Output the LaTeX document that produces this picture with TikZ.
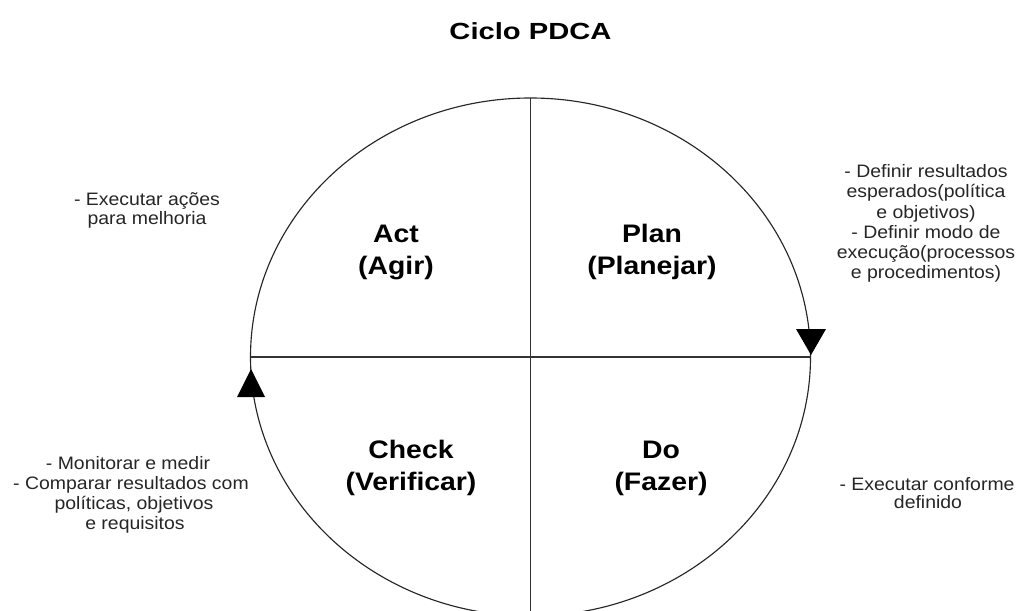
\documentclass[tikz,border=0pt]{standalone}
\usepackage{fontspec}
\setmainfont{Liberation Sans}
\newfontfamily\titlefont[FakeStretch=1.25]{Liberation Sans}
\newfontfamily\quadfont[FakeStretch=1.12]{Liberation Sans}
\newfontfamily\notefont[FakeStretch=1.08]{Liberation Sans}

\tikzset{
  heading/.style={font=\titlefont\bfseries\fontsize{17.5}{20}\selectfont, anchor=base, inner sep=0pt},
  quadlabel/.style={font=\quadfont\bfseries\fontsize{19}{22}\selectfont, anchor=base, inner sep=0pt},
  note/.style={font=\notefont\fontsize{13.5}{15}\selectfont, anchor=base, inner sep=0pt, text=black!85},
  ring/.style={draw=black!85, line width=0.85pt},
  axisline/.style={draw=black!80, line width=1.1pt},
  pointer/.style={fill=black},
}

\begin{document}
\begin{tikzpicture}[x=0.75pt, y=-0.75pt]
  % canvas
  \path[fill=white, use as bounding box] (0,0) rectangle (1019,610);
  \clip (0,0) rectangle (1019,610);

  % key points of the cycle
  \coordinate (centre) at (530.5,357);
  \coordinate (top) at (530.5,98);
  \coordinate (bottom) at (530.5,612);
  \coordinate (left) at (250.5,357);
  \coordinate (right) at (810.5,357);

  % circle and the two dividing lines
  \path[ring] (centre) ellipse [x radius=280, y radius=259];
  \draw[axisline] (top) -- (bottom);
  \draw[axisline] (left) -- (right);

  % direction markers
  \fill[pointer] (796,329) -- (826,329) -- (811,355) -- cycle;
  \fill[pointer] (237,397) -- (265,397) -- (251,369) -- cycle;

  % title
  \node[heading] (title) at (530.5,40) {Ciclo PDCA};

  % quadrant labels
  \node[quadlabel] (act1) at (396,242) {Act};
  \node[quadlabel] (act2) at (396,274) {(Agir)};
  \node[quadlabel] (plan1) at (652,242) {Plan};
  \node[quadlabel] (plan2) at (652,274) {(Planejar)};
  \node[quadlabel] (check1) at (411,458) {Check};
  \node[quadlabel] (check2) at (411,490) {(Verificar)};
  \node[quadlabel] (do1) at (661,458) {Do};
  \node[quadlabel] (do2) at (661,490) {(Fazer)};

  % notes: Act
  \node[note] (na1) at (147,205) {- Executar ações};
  \node[note] (na2) at (147,224) {para melhoria};

  % notes: Plan
  \node[note] (np1) at (926,177) {- Definir resultados};
  \node[note] (np2) at (926,197) {esperados(política};
  \node[note] (np3) at (926,218) {e objetivos)};
  \node[note] (np4) at (926,238) {- Definir modo de};
  \node[note] (np5) at (926,258) {execução(processos};
  \node[note] (np6) at (926,278) {e procedimentos)};

  % notes: Check
  \node[note] (nc1) at (128,469) {- Monitorar e medir};
  \node[note] (nc2) at (131,489) {- Comparar resultados com};
  \node[note] (nc3) at (134,509) {políticas, objetivos};
  \node[note] (nc4) at (135,529) {e requisitos};

  % notes: Do
  \node[note] (nd1) at (927,490) {- Executar conforme};
  \node[note] (nd2) at (928,508) {definido};
\end{tikzpicture}
\end{document}
